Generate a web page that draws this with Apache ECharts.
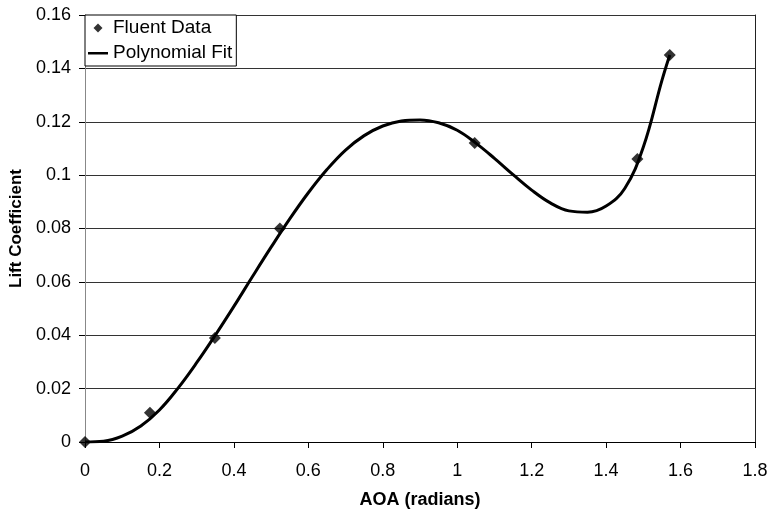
<!DOCTYPE html>
<html><head><meta charset="utf-8">
<script src="https://cdn.jsdelivr.net/npm/echarts@6/dist/echarts.min.js"></script>
<style>html,body{margin:0;padding:0;background:#fff}#c{width:769px;height:511px}</style>
</head><body><div id="c"></div>
<script>
// Fluent data points
const dataX = [0, 0.1745, 0.349, 0.5236, 1.047, 1.484, 1.571];
const dataY = [0, 0.011, 0.039, 0.080, 0.112, 0.106, 0.145];
// Polynomial fit curve
const fitX = [0, 0.05, 0.1, 0.15, 0.2, 0.25, 0.3, 0.35, 0.4, 0.45, 0.5, 0.55, 0.6, 0.65, 0.7, 0.75, 0.8, 0.85, 0.9, 0.95, 1.0, 1.05, 1.1, 1.15, 1.2, 1.25, 1.3, 1.35, 1.4, 1.45, 1.5, 1.55, 1.571];
const fitY = [0, 0.0003, 0.0022, 0.006, 0.012, 0.0202, 0.0297, 0.04, 0.0508, 0.062, 0.073, 0.0836, 0.0934, 0.1021, 0.1094, 0.1148, 0.1184, 0.1203, 0.1207, 0.1196, 0.1168, 0.112, 0.1063, 0.1002, 0.0944, 0.0896, 0.0866, 0.0861, 0.0884, 0.095, 0.1105, 0.1355, 0.145];
const xTicks = {min: 0, max: 1.8, interval: 0.2};
const yTicks = {min: 0, max: 0.16, interval: 0.02};

const chart = echarts.init(document.getElementById('c'), null, {renderer: 'canvas'});
const font = 'Liberation Sans, Arial, sans-serif';
chart.setOption({
  animation: false,
  backgroundColor: '#fff',
  grid: {left: 85, right: 14, top: 15, bottom: 69, show: false, outerBoundsMode: 'none', containLabel: false},
  legend: {
    left: 85, top: 15, orient: 'vertical',
    backgroundColor: '#fff', borderColor: '#000', borderWidth: 1, borderRadius: 0,
    padding: [2, 4, 2, 3], itemGap: 3, itemWidth: 20, itemHeight: 12,
    textStyle: {fontFamily: font, fontSize: 19, color: '#000', lineHeight: 22},
    data: [
      {name: 'Fluent Data', icon: 'path://M0,0 M20,12 M10,1.5 L14.5,6 L10,10.5 L5.5,6 Z', itemStyle: {color: '#000'}},
      {name: 'Polynomial Fit', icon: 'path://M0,0 M20,12 M0,5 L20,5 L20,7.5 L0,7.5 Z', itemStyle: {color: '#000'}}
    ]
  },
  xAxis: [{
    type: 'value', min: xTicks.min, max: xTicks.max, interval: xTicks.interval,
    name: 'AOA (radians)', nameLocation: 'middle', nameGap: 49,
    nameTextStyle: {fontFamily: font, fontSize: 18, fontWeight: 'bold', color: '#000'},
    axisLine: {show: true, onZero: false, lineStyle: {color: '#000'}},
    axisTick: {show: true, length: 6, lineStyle: {color: '#000'}},
    axisLabel: {fontFamily: font, fontSize: 18, color: '#000', margin: 20,
      formatter: v => String(Math.round(v * 10) / 10)},
    splitLine: {show: false}
  }],
  yAxis: [{
    type: 'value', min: yTicks.min, max: yTicks.max, interval: yTicks.interval,
    name: 'Lift Coefficient', nameLocation: 'middle', nameGap: 56,
    nameTextStyle: {fontFamily: font, fontSize: 17, fontWeight: 'bold', color: '#000'},
    axisLine: {show: true, lineStyle: {color: '#888'}},
    axisTick: {show: true, length: 6, lineStyle: {color: '#000'}},
    axisLabel: {fontFamily: font, fontSize: 18, color: '#000', margin: 14,
      formatter: v => String(Math.round(v * 100) / 100)},
    splitLine: {show: true, lineStyle: {color: '#333', width: 1}}
  }, {
    type: 'value', position: 'right', min: yTicks.min, max: yTicks.max, interval: yTicks.interval,
    axisLine: {show: true, lineStyle: {color: '#222'}},
    axisTick: {show: false}, axisLabel: {show: false}, splitLine: {show: false}
  }],
  series: [
    {
      name: 'Polynomial Fit', type: 'line', smooth: 0.4, showSymbol: false, symbol: 'none',
      lineStyle: {color: '#000', width: 3}, z: 2,
      data: fitX.map((x, i) => [x, fitY[i]])
    },
    {
      name: 'Fluent Data', type: 'scatter', symbol: 'diamond', symbolSize: 12,
      itemStyle: {color: '#000'}, z: 3,
      data: dataX.map((x, i) => [x, dataY[i]])
    }
  ]
});
</script></body></html>
